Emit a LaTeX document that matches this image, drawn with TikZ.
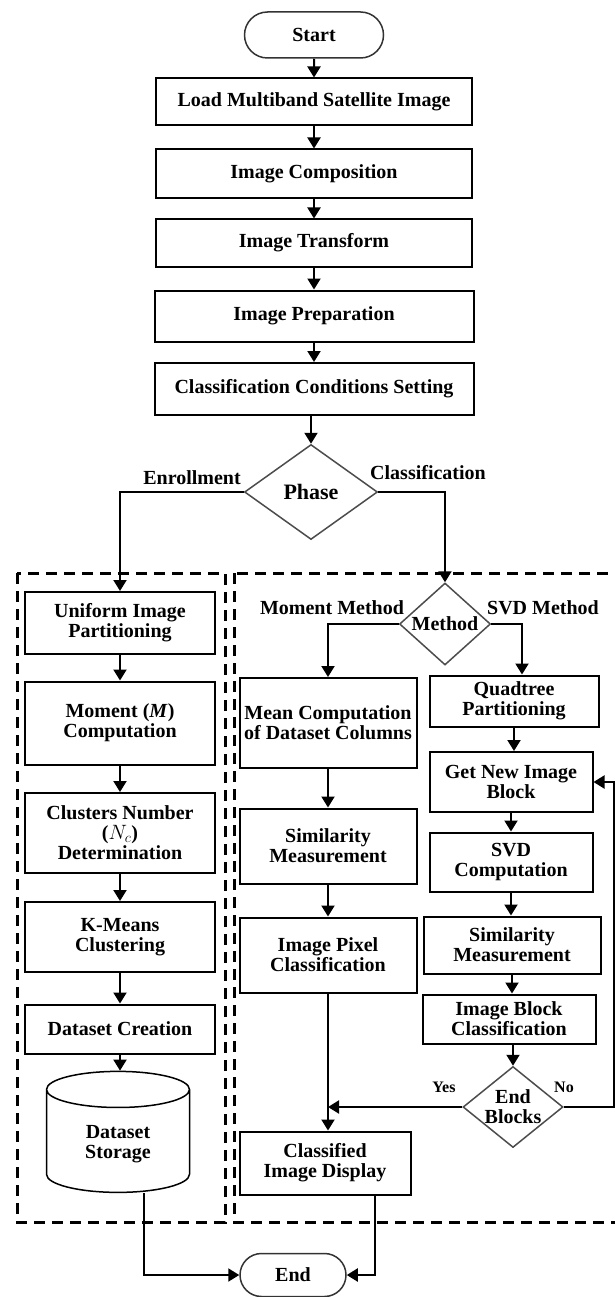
\documentclass[tikz,border=0pt]{standalone}
\usepackage{fontspec}
\setmainfont{Liberation Serif}
\usetikzlibrary{shapes.geometric, shapes.misc, arrows.meta, calc}

\begin{document}
\begin{tikzpicture}[thick, x=1pt, y=-1pt,
        txt/.style={font=\bfseries\fontsize{20}{20}\selectfont},
        box/.style={rectangle, draw, line width=2pt, inner sep=1pt, align=center, txt},
        term/.style={rounded rectangle, draw=black!80, line width=1.5pt, inner sep=1pt, txt},
        dec/.style={diamond, draw=black!70, line width=1.5pt, inner sep=0pt, align=center, txt},
        lbl/.style={inner sep=0pt, txt},
        arr/.style={line width=2pt, -{Triangle[width=13pt,length=11pt]}},
        grp/.style={line width=3pt, dash pattern=on 11pt off 7pt}]
        \useasboundingbox (0,0) rectangle (614,1297);

        \node[term, minimum width=141pt, minimum height=46pt] at (314,35) (start) {Start};
        \node[box, minimum width=316pt, minimum height=47pt] at (314,102) (load) {Load Multiband Satellite Image};
        \node[box, minimum width=316pt, minimum height=49pt] at (314,174) (comp) {Image Composition};
        \node[box, minimum width=316pt, minimum height=47pt] at (314,243) (trans) {Image Transform};
        \node[box, minimum width=319pt, minimum height=51pt] at (314,316) (prep) {Image Preparation};
        \node[box, minimum width=319pt, minimum height=52pt] at (314,389) (cond) {Classification Conditions Setting};
        \node[dec, minimum width=133pt, minimum height=95pt, font=\bfseries\fontsize{22}{22}\selectfont] at (311,492) (phase) {Phase};

        \node[box, minimum width=190pt, minimum height=62pt] at (120,623) (unif) {Uniform Image\\Partitioning};
        \node[box, minimum width=190pt, minimum height=83pt] at (120,723) (mom) {Moment (\textit{M})\\Computation};
        \node[box, minimum width=190pt, minimum height=80pt] at (120,833) (clus) {Clusters Number\\($N_c$)\\Determination};
        \node[box, minimum width=190pt, minimum height=70pt] at (120,937) (kmeans) {K-Means\\Clustering};
        \node[box, minimum width=190pt, minimum height=49pt] at (120,1029) (dcre) {Dataset Creation};
        \node[cylinder, shape border rotate=90, draw, line width=1.5pt, aspect=0.5, minimum width=143pt, minimum height=121pt, align=center, txt] at (118,1144) (store) {Dataset\\Storage};

        \node[dec, minimum width=91pt, minimum height=82pt] at (445,624) (meth) {\makebox[0pt]{Method}};
        \node[box, minimum width=177pt, minimum height=90pt] at (328,723) (mean) {Mean Computation\\of Dataset Columns};
        \node[box, minimum width=177pt, minimum height=75pt] at (328,846) (sim1) {Similarity\\Measurement};
        \node[box, minimum width=177pt, minimum height=75pt] at (328,955) (pix) {Image Pixel\\Classification};
        \node[box, minimum width=171pt, minimum height=63pt] at (325,1163) (disp) {Classified\\Image Display};

        \node[box, minimum width=169pt, minimum height=51pt] at (514,701) (quad) {Quadtree\\Partitioning};
        \node[box, minimum width=163pt, minimum height=60pt] at (511,782) (newblk) {Get New Image\\Block};
        \node[box, minimum width=163pt, minimum height=59pt] at (511,862) (svd) {SVD\\Computation};
        \node[box, minimum width=177pt, minimum height=57pt] at (512,945) (sim2) {Similarity\\Measurement};
        \node[box, minimum width=173pt, minimum height=49pt] at (509,1019) (blkcls) {Image Block\\Classification};
        \node[dec, minimum width=100pt, minimum height=81pt] at (513,1107) (endblk) {\makebox[0pt]{End}\\\makebox[0pt]{Blocks}};

        \node[term, minimum width=108pt, minimum height=43pt] at (293,1275) (end) {End};

        \node[lbl] at (192,478) (enroll) {Enrollment};
        \node[lbl] at (428,473) (classif) {Classification};
        \node[lbl] at (332,608) (mommeth) {Moment Method};
        \node[lbl] at (543,608) (svdmeth) {SVD Method};
        \node[lbl, font=\bfseries\fontsize{16}{16}\selectfont] at (444,1087) (yes) {Yes};
        \node[lbl, font=\bfseries\fontsize{16}{16}\selectfont] at (564,1087) (no) {No};

        \draw[grp] (17,573) rectangle (225,1222);
        \draw[grp] (234,573) rectangle (618,1222);

        \draw[arr] (start) -- (load);
        \draw[arr] (load) -- (comp);
        \draw[arr] (comp) -- (trans);
        \draw[arr] (trans) -- (prep);
        \draw[arr] (prep) -- (cond);
        \draw[arr] (phase |- cond.south) -- (phase.north);

        \draw[arr] (phase.west) -| (unif.north);
        \draw[arr] (phase.east) -| (meth.north);

        \draw[arr] (unif) -- (mom);
        \draw[arr] (mom) -- (clus);
        \draw[arr] (clus) -- (kmeans);
        \draw[arr] (kmeans) -- (dcre);
        \draw[arr] (dcre) -- (dcre |- store.north);
        \draw[arr] ([xshift=26pt]store.south) |- (end.west);

        \draw[arr] (meth.west) -| (mean.north);
        \draw[arr] (meth.east) -| ([xshift=8pt]quad.north);
        \draw[arr] (mean) -- (sim1);
        \draw[arr] (sim1) -- (pix);
        \draw[arr] (pix) -- (pix |- disp.north);
        \draw[arr] ([xshift=50pt]disp.south) |- (end.east);

        \draw[arr] (quad) -- (quad |- newblk.north);
        \draw[arr] (newblk) -- (newblk |- svd.north);
        \draw[arr] (svd) -- (svd |- sim2.north);
        \draw[arr] (sim2) -- (sim2 |- blkcls.north);
        \draw[arr] (endblk |- blkcls.south) -- (endblk.north);
        \draw[arr] (endblk.west) -- (pix |- endblk.west);
        \draw[arr] (endblk.east) -| ([xshift=20pt]newblk.east) -- (newblk.east);
    \end{tikzpicture}
\end{document}
